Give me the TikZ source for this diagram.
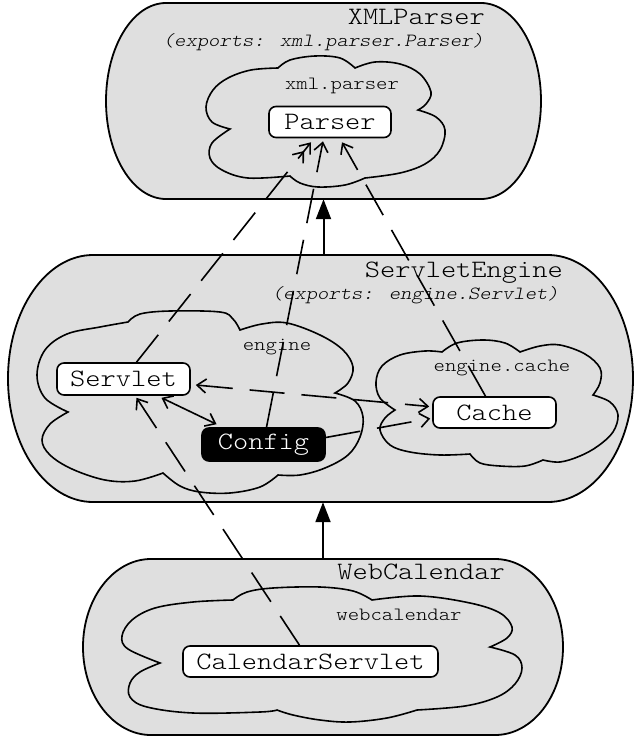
\documentclass[tikz,border=0pt]{standalone}
\usepackage{fontspec}
\IfFontExistsTF{lmmonolt10-regular.otf}
  {\newfontfamily\cour{lmmonolt10-regular.otf}[FakeStretch=1.16,
     ItalicFont=lmmonolt10-regular.otf, ItalicFeatures={FakeSlant=0.2}]}
  {\newfontfamily\cour{Liberation Mono}}
\usetikzlibrary{arrows.meta,calc}
\definecolor{boxgray}{HTML}{DFDFDF}
\newcommand{\stadiumdraw}[5]{%
  \pgfmathsetmacro{\stA}{#1+#5}\pgfmathsetmacro{\stB}{#3-#5}%
  \pgfmathsetmacro{\stCy}{(#2+#4)/2}\pgfmathsetmacro{\stRy}{(#4-#2)/2}%
  \pgfmathsetmacro{\stKx}{0.5523*#5}\pgfmathsetmacro{\stKy}{0.5523*\stRy}%
  \draw[outerbox] (\stA,#2) -- (\stB,#2)
    .. controls ({\stB+\stKx},#2) and (#3,{\stCy-\stKy}) .. (#3,\stCy)
    .. controls (#3,{\stCy+\stKy}) and ({\stB+\stKx},#4) .. (\stB,#4)
    -- (\stA,#4)
    .. controls ({\stA-\stKx},#4) and (#1,{\stCy+\stKy}) .. (#1,\stCy)
    .. controls (#1,{\stCy-\stKy}) and ({\stA-\stKx},#2) .. (\stA,#2) -- cycle;}
\tikzset{
  outerbox/.style={draw, line width=1.8pt, fill=boxgray},
  frame/.style={inner sep=0pt},
  cloudline/.style={draw, line width=1.6pt, fill=boxgray, line join=miter},
  puff/.style={smooth, tension=0.6},
  comp/.style={draw, rounded corners=7pt, fill=white, line width=1.6pt, inner sep=0pt,
    minimum height=31pt, font=\cour\fontsize{25}{25}\selectfont},
  titlelabel/.style={inner sep=0pt, anchor=base east, font=\cour\fontsize{25}{25}\selectfont},
  exportlabel/.style={inner sep=0pt, anchor=base east, font=\cour\itshape\fontsize{18.6}{19}\selectfont},
  pkglabel/.style={inner sep=0pt, anchor=base, font=\cour\fontsize{18.7}{19}\selectfont},
  dep/.style={line width=1.6pt, dash pattern=on 35pt off 17pt, -{Straight Barb[length=9pt,width=14pt]}},
  depdouble/.style={line width=1.6pt, dash pattern=on 35pt off 17pt, -{Straight Barb[length=9pt,width=14pt] Straight Barb[length=9pt,width=14pt]}},
  depboth/.style={line width=1.6pt, dash pattern=on 35pt off 17pt, {Straight Barb[length=9pt,width=14pt]}-{Straight Barb[length=9pt,width=14pt]}},
  uses/.style={line width=1.6pt, {Straight Barb[length=9pt,width=14pt]}-{Straight Barb[length=9pt,width=14pt]}},
  req/.style={line width=2pt, -{Triangle[length=20pt,width=15pt]}}
}
\begin{document}
\begin{tikzpicture}[x=1pt,y=-1pt]
\useasboundingbox (0,0) rectangle (634,740);

% outer module boxes
\node[frame, minimum width=435pt, minimum height=196pt] (xmlbox) at (323.5,101) {};
\node[frame, minimum width=625pt, minimum height=247pt] (engbox) at (320.5,378.5) {};
\node[frame, minimum width=480pt, minimum height=176pt] (webbox) at (323,647) {};
\stadiumdraw{106}{3}{541}{199}{60}
\stadiumdraw{8}{255}{633}{502}{85}
\stadiumdraw{83}{559}{563}{735}{68}

% package clouds
% xml.parser
\draw[cloudline] (230,129)
  --plot[puff] coordinates {(230,129) (212,122) (206,107) (213,90) (228,78) (251,70) (278,68)}
  --plot[puff] coordinates {(278,68) (290,60) (315,56) (340,58) (355,68)}
  --plot[puff] coordinates {(355,68) (375,62) (400,64) (420,74) (431,92) (426,104) (418,110)}
  --plot[puff] coordinates {(418,110) (436,117) (445,130) (440,150) (425,164) (400,173) (365,178)}
  --plot[puff] coordinates {(365,178) (345,185) (318,187) (300,183) (290,176)}
  --plot[puff] coordinates {(290,176) (248,178) (222,170) (210,158) (212,143) (230,129)} -- cycle;
% engine
\draw[cloudline] (68,412)
  --plot[puff] coordinates {(68,412) (45,398) (37,375) (45,350) (67,334) (100,327) (128,322)}
  --plot[puff] coordinates {(128,322) (140,314) (170,311) (220,312) (233,319) (240,330)}
  --plot[puff] coordinates {(240,330) (262,324) (287,323) (320,335) (343,350) (353,367) (348,383) (335,393)}
  --plot[puff] coordinates {(335,393) (355,401) (363,417) (360,437) (348,455) (325,468) (300,475) (278,475)}
  --plot[puff] coordinates {(278,475) (260,487) (230,493) (200,492) (180,486) (163,473)}
  --plot[puff] coordinates {(163,473) (135,481) (105,480) (72,469) (50,455) (42,440) (50,424) (68,412)} -- cycle;
% engine.cache
\draw[cloudline] (395,410)
  --plot[puff] coordinates {(395,410) (380,398) (376,382) (382,366) (400,355) (425,351) (442,352)}
  --plot[puff] coordinates {(442,352) (457,343) (483,340) (505,343) (520,352)}
  --plot[puff] coordinates {(520,352) (540,346) (560,345) (585,354) (600,368) (600,383) (593,395)}
  --plot[puff] coordinates {(593,395) (610,402) (618,415) (613,432) (598,446) (580,456) (560,462) (543,460)}
  --plot[puff] coordinates {(543,460) (525,466) (500,466) (480,463) (470,454)}
  --plot[puff] coordinates {(470,454) (440,455) (410,452) (390,445) (380,430) (385,418) (395,410)} -- cycle;
% webcalendar
\draw[cloudline] (160,663)
  --plot[puff] coordinates {(160,663) (128,649) (122,636) (132,620) (155,608) (193,602) (233,600)}
  --plot[puff] coordinates {(233,600) (247,592) (273,588) (320,587) (353,591) (372,600)}
  --plot[puff] coordinates {(372,600) (420,596) (470,603) (500,613) (512,627) (507,638) (490,647)}
  --plot[puff] coordinates {(490,647) (515,655) (522,668) (515,684) (497,697) (465,706) (417,710)}
  --plot[puff] coordinates {(417,710) (387,718) (350,722) (320,720) (293,715) (277,710)}
  --plot[puff] coordinates {(277,710) (260,712) (193,713) (147,707) (130,697) (130,683) (140,672) (160,663)} -- cycle;

% labels
\node[titlelabel] (xmltitle) at (485,24) {XMLParser};
\node[exportlabel] (xmlexp) at (484,46) {(exports: xml.parser.Parser)};
\node[pkglabel] (xmlpkg) at (342,89) {xml.parser};
\node[titlelabel] (engtitle) at (563,277) {ServletEngine};
\node[exportlabel] (engexp) at (559,299) {(exports: engine.Servlet)};
\node[pkglabel] (engpkg) at (277,350) {engine};
\node[pkglabel] (cachepkg) at (502,371) {engine.cache};
\node[titlelabel] (webtitle) at (505,579) {WebCalendar};
\node[pkglabel] (webpkg) at (399,620) {webcalendar};

% classes
\node[comp, minimum width=122pt] (parser) at (330,122) {Parser};
\node[comp, minimum width=133pt, minimum height=32pt] (servlet) at (123.5,379) {Servlet};
\node[comp, minimum width=123pt, minimum height=33pt, fill=black, text=white] (config) at (263.5,444.5) {Config};
\node[comp, minimum width=123pt] (cache) at (494.5,412.5) {Cache};
\node[comp, minimum width=255pt] (calsv) at (310.5,661.5) {CalendarServlet};

% module requirements
\draw[req] (webbox.north) -- (webbox.north |- engbox.south);
\draw[req] (xmlbox.south |- engbox.north) -- (xmlbox.south);

% class dependencies
\draw[dep] ([xshift=-11pt]calsv.north) -- ([xshift=13pt,yshift=-2pt]servlet.south);
\draw[depdouble] ([xshift=13pt]servlet.north) -- ([xshift=-19pt,yshift=-4pt]parser.south);
\draw[dep] ([xshift=3pt]config.north) -- ([xshift=-7pt,yshift=-3pt]parser.south);
\draw[dep] ([xshift=-9pt]cache.north) -- ([xshift=12pt,yshift=-4pt]parser.south);
\draw[depboth] ([xshift=5pt,yshift=-6pt]servlet.east) -- ([xshift=-3pt,yshift=6pt]cache.west);
\draw[uses] ([xshift=38pt,yshift=-2pt]servlet.south) -- ([xshift=-47pt,yshift=3pt]config.north);
\draw[dep] ([yshift=7pt]config.east) -- ([xshift=-2pt,yshift=-6pt]cache.west);
\end{tikzpicture}
\end{document}
